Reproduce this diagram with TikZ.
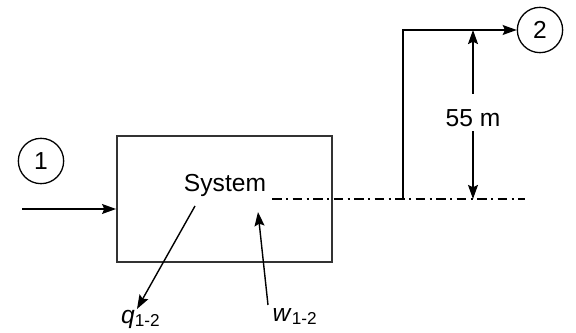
\documentclass[tikz,border=0pt]{standalone}
\usepackage{fontspec}
\setsansfont{Liberation Sans}
\usetikzlibrary{arrows.meta, positioning, calc}
\tikzset{
  every picture/.style={font=\sffamily\fontsize{21}{25}\selectfont, line width=1.2pt},
  arrow/.style={-{Stealth[length=12pt, width=8.5pt, inset=2pt]}},
  state/.style={circle, draw, minimum size=1.36cm, inner sep=0pt, line width=1.1pt},
  centreline/.style={dash pattern=on 8.5pt off 3.5pt on 2pt off 3.5pt},
}
\begin{document}
\begin{tikzpicture}[
  sysbox/.style={draw=black!80, line width=1.6pt, minimum width=6.45cm, minimum height=3.78cm},
  lab/.style={inner sep=1pt}]
  \useasboundingbox (0,0) rectangle (17.28,9.99);
  % ---------- system and inlet ----------
  \node[sysbox] (sys) at (6.735,4.02) {};
  \node (systxt) at (6.75,4.44) {System};
  \node[state] (s1) at (1.23,5.16) {1};
  \coordinate (in) at (0.66,3.72);
  \draw[arrow] (in) -- (in -| sys.west);
  % ---------- heat and work ----------
  \coordinate (qtail) at (5.85,3.81);
  \coordinate (qtip) at (4.11,0.72);
  \node[lab] (q) at (4.22,0.42) {\textit{q}\textsubscript{1-2}};
  \draw[arrow] (qtail) -- (qtip);
  \coordinate (wtail) at (8.04,0.84);
  \coordinate (wtip) at (7.74,3.63);
  \node[lab] (w) at (8.85,0.5) {\textit{w}\textsubscript{1-2}};
  \draw[arrow] (wtail) -- (wtip);
  % ---------- outlet, 55 m higher ----------
  \coordinate (cl0) at (8.16,4.02);
  \coordinate (cl1) at (15.75,4.02);
  \draw[centreline] (cl0) -- (cl1);
  \node[state] (s2) at (16.2,9.09) {2};
  \coordinate (base) at (12.09,4.02);
  \draw[arrow] (base) |- (s2);
  \node (h) at (14.19,6.45) {55 m};
  \draw[arrow] ([yshift=0.33cm]h.north) -- (h |- s2);
  \draw[arrow] (h.south) -- (h |- cl0);
\end{tikzpicture}
\end{document}
